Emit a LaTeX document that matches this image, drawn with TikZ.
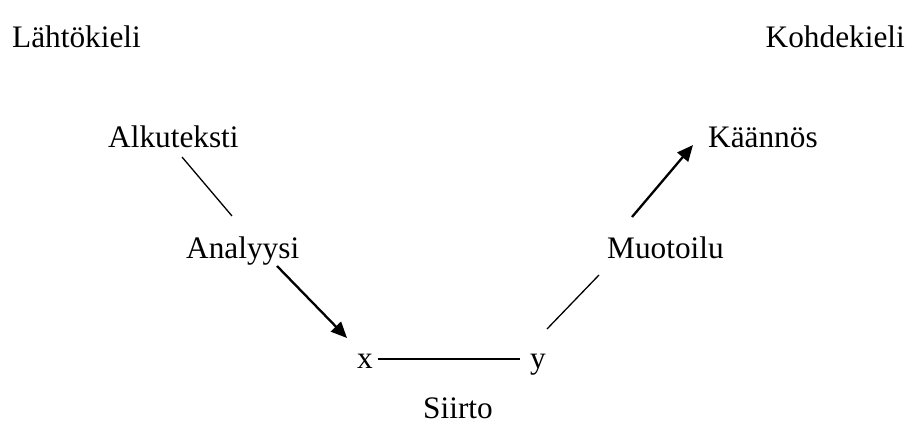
\documentclass[tikz,border=0pt]{standalone}
\usepackage{fontspec}
\setmainfont{Liberation Serif}
\usetikzlibrary{arrows.meta}
\begin{document}
\begin{tikzpicture}[x=1pt,y=-1pt,
  lbl/.style={inner sep=0pt,font=\fontsize{31.3}{36}\selectfont},
  thin line/.style={line width=1.3pt},
  bold arrow/.style={line width=2.3pt,-{Triangle[length=16pt,width=14pt]}}]
\useasboundingbox (0,0) rectangle (906,426);
\node[lbl,anchor=base west] (src) at (12,47) {Lähtökieli};
\node[lbl,anchor=base east] (tgt) at (905,47) {Kohdekieli};
\node[lbl,anchor=base west] (alku) at (108,147) {Alkuteksti};
\node[lbl,anchor=base west] (kaan) at (708,147) {Käännös};
\node[lbl,anchor=base west] (anal) at (186,258) {Analyysi};
\node[lbl,anchor=base west] (muot) at (607,258) {Muotoilu};
\node[lbl,anchor=base west] (nx) at (357,368) {x};
\node[lbl,anchor=base west] (ny) at (530,368) {y};
\node[lbl,anchor=base west] (siirto) at (423,418) {Siirto};
\coordinate (l1a) at (182,157);
\coordinate (l1b) at (232,216);
\coordinate (a1a) at (277,266);
\coordinate (a1b) at (347,338);
\coordinate (xya) at (378,359);
\coordinate (xyb) at (520,359);
\coordinate (l2a) at (547,329);
\coordinate (l2b) at (599,275);
\coordinate (a2a) at (632,217);
\coordinate (a2b) at (693,145);
\draw[thin line] (l1a) -- (l1b);
\draw[bold arrow] (a1a) -- (a1b);
\draw[thin line] (xya) -- (xyb);
\draw[thin line] (l2a) -- (l2b);
\draw[bold arrow] (a2a) -- (a2b);
\end{tikzpicture}
\end{document}
